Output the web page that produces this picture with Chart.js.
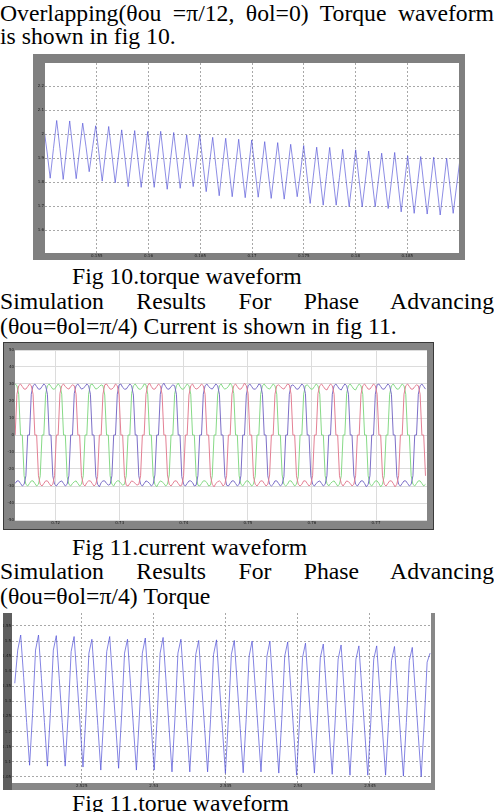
<!DOCTYPE html>
<html>
<head>
<meta charset="utf-8">
<script src="https://cdn.jsdelivr.net/npm/chart.js@4.4.0/dist/chart.umd.min.js"></script>
<style>
    body { margin: 0; width: 494px; height: 812px; overflow: hidden; background: #fff; position: relative; }
    .line { position: absolute; left: 0; width: 494px; font: 23.7px/24px "Liberation Serif", "Times New Roman", serif; color: #000; white-space: nowrap; }
    .just { text-align: justify; text-align-last: justify; white-space: normal; }
    canvas { position: absolute; }
</style>
</head>
<body>
<div class="line just" style="top:1px">Overlapping(θou =π/12, θol=0) Torque waveform</div>
<div class="line" style="top:24px">is shown in fig 10.</div>
<canvas id="torque10" width="432" height="206" style="left:33px;top:54px"></canvas>
<div class="line" style="top:264px;left:72px;width:auto">Fig 10.torque waveform</div>
<div class="line just" style="top:289px">Simulation Results For Phase Advancing</div>
<div class="line" style="top:314px">(θou=θol=π/4) Current is shown in fig 11.</div>
<canvas id="current11" width="431" height="188" style="left:3px;top:342px"></canvas>
<div class="line" style="top:535px;left:72px;width:auto">Fig 11.current waveform</div>
<div class="line just" style="top:559px">Simulation Results For Phase Advancing</div>
<div class="line" style="top:584px">(θou=θol=π/4) Torque</div>
<canvas id="torque11" width="432" height="177" style="left:3px;top:613px"></canvas>
<div class="line" style="top:791px;left:72px;width:auto">Fig 11.torue waveform</div>

<script>
// Fig 10 - torque, overlapping (fixed sample step)
const torque10Start = 0.149874;
const torque10Step = 0.000314;
const torque10 = [
    2.03, 1.93, 1.817, 1.94,
    2.057, 1.94, 1.812, 1.935,
    2.055, 1.935, 1.815, 1.93,
    2.046, 1.95, 1.844, 1.94,
    2.035, 1.92, 1.805, 1.92,
    2.032, 1.915, 1.798, 1.91,
    2.018, 1.90, 1.782, 1.90,
    2.015, 1.895, 1.779, 1.895,
    2.011, 1.895, 1.779, 1.895,
    2.012, 1.89, 1.771, 1.89,
    2.007, 1.89, 1.775, 1.885,
    1.997, 1.89, 1.782, 1.89,
    2.0, 1.88, 1.761, 1.875,
    1.987, 1.865, 1.744, 1.865,
    1.983, 1.86, 1.740, 1.86,
    1.979, 1.855, 1.736, 1.855,
    1.976, 1.855, 1.738, 1.85,
    1.969, 1.85, 1.733, 1.85,
    1.965, 1.845, 1.730, 1.845,
    1.958, 1.85, 1.740, 1.84,
    1.953, 1.83, 1.712, 1.83,
    1.946, 1.825, 1.705, 1.825,
    1.945, 1.825, 1.705, 1.82,
    1.937, 1.815, 1.698, 1.815,
    1.935, 1.815, 1.698, 1.81,
    1.930, 1.815, 1.698, 1.81,
    1.921, 1.805, 1.691, 1.805,
    1.924, 1.80, 1.677, 1.795,
    1.910, 1.79, 1.671, 1.79,
    1.907, 1.785, 1.668, 1.785,
    1.904, 1.785, 1.664, 1.78,
    1.900, 1.785, 1.671, 1.78,
    1.886
];
const torque10XTicks = [0.155, 0.16, 0.165, 0.17, 0.175, 0.18, 0.185];
const torque10XLabels = ['0.155', '0.16', '0.165', '0.17', '0.175', '0.18', '0.185'];
const torque10YTicks = [1.6, 1.7, 1.8, 1.9, 2.0, 2.1, 2.2];
const torque10YLabels = ['1.6', '1.7', '1.8', '1.9', '2', '2.1', '2.2'];

// Fig 11 - three phase currents, phase advancing
const currentStart = 0.713673;
const currentStep = 0.0002797;
const currentRed = [
    0, 24, 29, 30, 28.5, 27, 27, 28.5, 30, 29, 24, 0, 0, -24, -29, -30, -28.5, -27, -27, -28.5, -30, -29, -24, 0,
    0, 24.5, 29, 30, 28.5, 27.5, 27, 28.5, 29.5, 29, 24, 0, 0, -24, -29, -30, -28, -27, -27, -28.5, -30, -29, -24.5, 0,
    0, 24, 29.5, 30, 28.5, 27, 27, 28, 30, 29, 23.5, 0, 0, -24, -29.5, -30, -28.5, -27, -27.5, -28.5, -29.5, -29, -24, 0,
    0, 24, 29, 30.5, 28.5, 27, 27, 28.5, 30, 29, 24, 0, 0, -23.5, -29, -30, -28.5, -27, -27, -28.5, -30, -29.5, -24, 0,
    0, 23.5, 29, 30, 28, 27, 27.5, 28.5, 30, 29, 24, 0, 0, -24, -29, -30.5, -28.5, -27.5, -27, -28, -30, -29, -24, 0,
    0, 24, 29, 30, 28.5, 27, 27, 28.5, 30.5, 29, 24.5, 0, 0, -24.5, -29, -30, -28.5, -27, -27, -28.5, -30, -29, -23.5, 0,
    0, 24, 29, 29.5, 28.5, 27.5, 27, 28.5, 30, 29.5, 24, 0, 0, -24, -29, -30, -29, -27, -27, -28.5, -30, -29, -24, 0,
    0, 24.5, 29, 30, 28.5, 27, 26.5, 28.5, 30, 29, 24, 0, 0, -24, -28.5, -30, -28.5, -27, -27.5, -28.5, -30, -29, -24, 0,
    0, 24, 29, 30, 28.5, 27, 27, 28.5, 30, 29, 24, 0, 0, -24, -29, -30, -28.5, -27, -27, -28.5, -30.5, -29, -24, 0,
    0, 24, 29, 30, 28.5, 27, 27, 28.5, 29.5, 29, 24, 0, 0, -24
];
const currentPurple = [
    -28.5, -27, -27, -28.5, -30, -29, -24, 0, 0, 24, 29, 30, 28.5, 27, 27, 28.5, 30, 29, 24, 0, 0, -24, -29, -30,
    -28.5, -27.5, -27, -28.5, -30, -29, -24, 0, 0, 24.5, 29, 30, 28.5, 27, 27.5, 28.5, 30, 29, 24, 0, 0, -24, -29, -30.5,
    -28, -27, -27, -28.5, -29.5, -29, -24, 0, 0, 24, 29.5, 30, 28, 27, 27, 28.5, 30, 29, 23.5, 0, 0, -24, -29, -30,
    -28.5, -27, -27.5, -28.5, -30, -29, -23.5, 0, 0, 24, 29, 30.5, 28.5, 27, 27, 28.5, 29.5, 29, 24, 0, 0, -24.5, -29, -30,
    -28.5, -27, -27, -28, -30, -29.5, -24, 0, 0, 24, 29, 30, 28.5, 27.5, 27, 28.5, 30, 29, 24, 0, 0, -24, -29.5, -30,
    -28.5, -27, -27, -28.5, -30, -29, -24, 0, 0, 23.5, 29, 30, 28.5, 27, 27, 28, 30, 29.5, 24, 0, 0, -24, -29, -30,
    -29, -27, -27, -28.5, -30, -29, -24.5, 0, 0, 24, 29, 29.5, 28.5, 27, 27, 28.5, 30, 29, 24.5, 0, 0, -24, -29, -30,
    -28.5, -27.5, -27, -28.5, -30, -29, -24, 0, 0, 24, 29, 30, 28.5, 27, 26.5, 28.5, 30, 29, 24, 0, 0, -23.5, -29, -30,
    -28.5, -27, -27, -28.5, -30.5, -29, -24, 0, 0, 24, 29.5, 30, 28.5, 27, 27, 28.5, 30, 29, 24, 0, 0, -24, -29, -30,
    -28.5, -27, -27, -28.5, -30, -29, -24, 0, 0, 24, 29, 30, 28.5, 27
];
const currentGreen = [
    30, 29, 24, 0, 0, -24, -29, -30, -28.5, -27, -27, -28.5, -30, -29, -24, 0, 0, 24, 29, 30, 28.5, 27, 27, 28.5,
    30, 29, 24, 0, 0, -24.5, -29, -30, -28.5, -27.5, -27, -28.5, -30, -29, -24, 0, 0, 24, 29.5, 30, 28.5, 27, 27.5, 28.5,
    29.5, 29, 23.5, 0, 0, -24, -29, -30, -28, -27, -27, -28.5, -29.5, -29, -24, 0, 0, 24.5, 29, 30, 28.5, 27, 27, 28,
    30, 29.5, 24, 0, 0, -24, -29, -30.5, -28.5, -27, -27.5, -28.5, -30, -29, -23.5, 0, 0, 24, 29, 30.5, 28.5, 27, 27, 28.5,
    30, 29, 24, 0, 0, -24, -29.5, -30, -28.5, -27, -27, -28, -30, -29.5, -24, 0, 0, 23.5, 29, 30, 28, 27, 27.5, 28.5,
    30.5, 29, 24.5, 0, 0, -24, -29, -30, -28.5, -27, -27, -28.5, -30, -29, -24, 0, 0, 24, 29, 30, 28.5, 27.5, 27, 28.5,
    30, 29, 24, 0, 0, -23.5, -29, -30, -29, -27, -27, -28.5, -30, -29, -24.5, 0, 0, 24, 29, 29.5, 28.5, 27, 27, 28.5,
    30, 29, 24, 0, 0, -24, -28.5, -30, -28.5, -27.5, -27, -28.5, -30, -29, -24, 0, 0, 24.5, 29, 30, 28.5, 27, 26.5, 28.5,
    30, 29, 24, 0, 0, -24, -29, -30, -28.5, -27, -27, -28.5, -30.5, -29, -24, 0, 0, 24, 29, 30, 28.5, 27, 27, 28.5,
    30, 29, 24, 0, 0, -24, -29, -30, -28.5, -27, -27, -28.5, -30, -29
];
const currentXTicks = [0.72, 0.73, 0.74, 0.75, 0.76, 0.77];
const currentXLabels = ['0.72', '0.73', '0.74', '0.75', '0.76', '0.77'];
const currentYTicks = [-50, -40, -30, -20, -10, 0, 10, 20, 30, 40, 50];
const currentYLabels = ['-50', '-40', '-30', '-20', '-10', '0', '10', '20', '30', '40', '50'];

// Fig 11 - torque, phase advancing
const torque11Start = 2.520357;
const torque11Step = 0.0002058;
const torque11 = [
    1.36, 1.47,
    1.52, 1.38, 1.23, 1.088, 1.26, 1.47,
    1.52, 1.375, 1.23, 1.085, 1.26, 1.47,
    1.518, 1.375, 1.23, 1.085, 1.255, 1.465,
    1.515, 1.37, 1.225, 1.082, 1.255, 1.46,
    1.506, 1.365, 1.22, 1.072, 1.25, 1.465,
    1.515, 1.37, 1.225, 1.078, 1.25, 1.46,
    1.506, 1.36, 1.215, 1.072, 1.25, 1.46,
    1.51, 1.365, 1.22, 1.072, 1.245, 1.46,
    1.512, 1.365, 1.215, 1.066, 1.245, 1.46,
    1.506, 1.36, 1.21, 1.066, 1.245, 1.455,
    1.502, 1.355, 1.21, 1.066, 1.24, 1.455,
    1.504, 1.355, 1.21, 1.061, 1.24, 1.455,
    1.502, 1.355, 1.21, 1.063, 1.24, 1.45,
    1.50, 1.355, 1.21, 1.066, 1.24, 1.45,
    1.50, 1.35, 1.205, 1.062, 1.24, 1.45,
    1.497, 1.35, 1.2, 1.055, 1.235, 1.445,
    1.493, 1.345, 1.2, 1.062, 1.235, 1.445,
    1.49, 1.345, 1.2, 1.058, 1.235, 1.44,
    1.487, 1.34, 1.195, 1.055, 1.23, 1.44,
    1.484, 1.34, 1.195, 1.055, 1.23, 1.44,
    1.484, 1.34, 1.195, 1.055, 1.23, 1.435,
    1.482, 1.335, 1.19, 1.052, 1.23, 1.435,
    1.479, 1.335, 1.19, 1.05, 1.225, 1.43,
    1.46
];
const torque11XTicks = [2.525, 2.53, 2.535, 2.54, 2.545];
const torque11XLabels = ['2.525', '2.53', '2.535', '2.54', '2.545'];
const torque11YTicks = [1.05, 1.1, 1.15, 1.2, 1.25, 1.3, 1.35, 1.4, 1.45, 1.5, 1.55];
const torque11YLabels = ['1.05', '1.1', '1.15', '1.2', '1.25', '1.3', '1.35', '1.4', '1.45', '1.5', '1.55'];

// gray scope frame around a white plot area
const framePlugin = {
    id: 'frame',
    beforeDraw(chart, args, opts) {
        const ctx = chart.ctx;
        const a = chart.chartArea;
        ctx.save();
        ctx.fillStyle = opts.color;
        ctx.fillRect(0, 0, chart.width, chart.height);
        if (opts.leftColor) {
            ctx.fillStyle = opts.leftColor;
            ctx.fillRect(0, 0, a.left, chart.height);
        }
        ctx.fillStyle = '#fff';
        ctx.fillRect(a.left, a.top, a.right - a.left, a.bottom - a.top);
        if (opts.outline) {
            ctx.strokeStyle = opts.outline;
            ctx.lineWidth = 1;
            ctx.strokeRect(0.5, 0.5, chart.width - 1, chart.height - 1);
        }
        ctx.restore();
    }
};

function toPoints(start, step, values) {
    return values.map((v, i) => ({ x: start + i * step, y: v }));
}

function axis(min, max, tickValues, tickLabels, size, grid) {
    return {
        type: 'linear',
        min: min,
        max: max,
        afterBuildTicks: scale => { scale.ticks = tickValues.map(v => ({ value: v })); },
        afterFit: scale => {
            // fixed margins, no extra room for edge labels
            if (scale.isHorizontal()) scale.height = size; else scale.width = size;
            scale.paddingTop = 0;
            scale.paddingBottom = 0;
            scale.paddingLeft = 0;
            scale.paddingRight = 0;
        },
        ticks: {
            autoSkip: false,
            maxRotation: 0,
            padding: 1,
            color: '#1a1a1a',
            font: { family: 'DejaVu Sans', size: 4 },
            callback: (value, index) => tickLabels[index]
        },
        grid: { color: grid.color, lineWidth: 1, drawTicks: false },
        border: { display: false, dash: grid.dash }
    };
}

function makeChart(id, datasets, xAxis, yAxis, padding, frame) {
    const ctx = document.getElementById(id).getContext('2d');
    return new Chart(ctx, {
        type: 'line',
        data: { datasets: datasets },
        options: {
            responsive: false,
            animation: false,
            events: [],
            parsing: false,
            layout: { padding: padding },
            elements: { point: { radius: 0 }, line: { tension: 0, borderWidth: 1 } },
            scales: { x: xAxis, y: yAxis },
            plugins: { legend: { display: false }, tooltip: { enabled: false }, frame: frame }
        },
        plugins: [framePlugin]
    });
}

const dotted = { color: '#a8a8a8', dash: [2, 2] };
const solid = { color: '#dcdcdc', dash: [] };

makeChart('torque10',
    [{ data: toPoints(torque10Start, torque10Step, torque10), borderColor: 'rgba(80,80,215,0.65)' }],
    axis(0.15, 0.19, torque10XTicks, torque10XLabels, 7, dotted),
    axis(1.506, 2.296, torque10YTicks, torque10YLabels, 12, dotted),
    { top: 9, right: 6, left: 0, bottom: 0 },
    { color: '#808080' });

makeChart('current11',
    [
        { data: toPoints(currentStart, currentStep, currentRed), borderColor: 'rgb(228,128,148)' },
        { data: toPoints(currentStart, currentStep, currentPurple), borderColor: 'rgb(125,112,200)' },
        { data: toPoints(currentStart, currentStep, currentGreen), borderColor: 'rgb(135,218,135)' }
    ],
    axis(0.71365, 0.77796, currentXTicks, currentXLabels, 10, solid),
    axis(-50, 50, currentYTicks, currentYLabels, 12, solid),
    { top: 8, right: 7, left: 0, bottom: 0 },
    { color: '#858585', outline: '#3a3a3a' });

makeChart('torque11',
    [{ data: toPoints(torque11Start, torque11Step, torque11), borderColor: 'rgba(80,80,215,0.7)' }],
    axis(2.520165, 2.549232, torque11XTicks, torque11XLabels, 7, dotted),
    axis(1.0291, 1.5931, torque11YTicks, torque11YLabels, 9, dotted),
    { top: 0, right: 4, left: 0, bottom: 0 },
    { color: '#888888', leftColor: '#5e5e5e' });
</script>
</body>
</html>
